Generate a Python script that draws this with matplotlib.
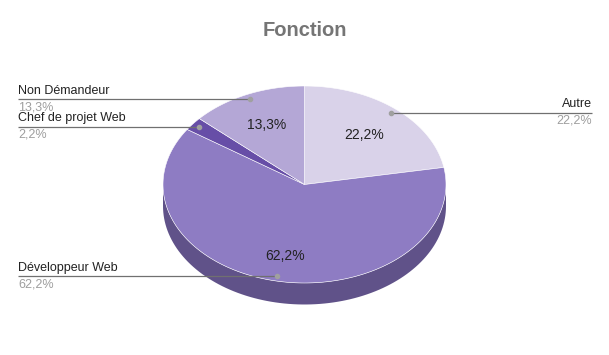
import numpy as np
import matplotlib
matplotlib.use("Agg")
import matplotlib.pyplot as plt
from matplotlib.patches import Polygon

categories = ["Autre", "Développeur Web", "Chef de projet Web", "Non Démandeur"]
values = [10, 28, 1, 6]
top_colors = ["#d9d2e9", "#8e7cc3", "#674ea7", "#b4a7d6"]
side_colors = ["#a39eaf", "#605289", "#4d3a7d", "#877da0"]
title = "Fonction"

plt.rcParams['font.family'] = ['Liberation Sans', 'DejaVu Sans']

W, H = 609, 355
fig = plt.figure(figsize=(W / 100, H / 100), dpi=100)
ax = fig.add_axes([0, 0, 1, 1])
ax.set_xlim(0, W)
ax.set_ylim(H, 0)
ax.axis('off')

cx, cy, rx, ry, depth = 304.5, 184.5, 141.5, 98.5, 21.5

total = float(sum(values))
fracs = [v / total for v in values]
starts = np.cumsum([0] + fracs[:-1]) * 360
ends = starts + np.array(fracs) * 360


def pt(a, r=1.0, dz=0.0):
    t = np.radians(a)
    return cx + r * rx * np.sin(t), cy - r * ry * np.cos(t) + dz


# sides (front half, 90..270)
for s, e, sc in zip(starts, ends, side_colors):
    a0, a1 = max(s, 90), min(e, 270)
    if a1 <= a0:
        continue
    ang = np.linspace(a0, a1, 100)
    top = [pt(a) for a in ang]
    bot = [pt(a, dz=depth) for a in ang[::-1]]
    ax.add_patch(Polygon(top + bot, closed=True, facecolor=sc, edgecolor='none', zorder=1))

# tops
for s, e, tc in zip(starts, ends, top_colors):
    ang = np.linspace(s, e, 200)
    poly = [(cx, cy)] + [pt(a) for a in ang]
    ax.add_patch(Polygon(poly, closed=True, facecolor=tc, edgecolor='#ffffff',
                         linewidth=0.4, zorder=2))

pct = [f"{f * 100:.1f}".replace('.', ',') + '%' for f in fracs]

# inside labels
for s, e, f, p in zip(starts, ends, fracs, pct):
    if f < 0.05:
        continue
    m = (s + e) / 2
    x, y = pt(m, 0.66)
    if 90 < m < 270:
        y += 8
    ax.text(x, y, p, ha='center', va='center', fontsize=10, color='#222222', zorder=5)

# leader lines
for s, e, name, p in zip(starts, ends, categories, pct):
    m = (s + e) / 2
    x, y = pt(m, 0.95)
    if x > cx:
        xe = 592
        ha = 'right'
    else:
        xe = 18
        ha = 'left'
    ax.plot([x, xe], [y, y], color='#707070', linewidth=0.9, zorder=4, solid_capstyle='butt')
    ax.plot([x], [y], 'o', color='#a0a0a0', markersize=3, zorder=6)
    ax.text(xe, y - 2.5, name, ha=ha, va='bottom', fontsize=9, color='#222222')
    ax.text(xe, y + 2, p, ha=ha, va='top', fontsize=9, color='#9e9e9e')

ax.text(W / 2, 30, title, ha='center', va='center', fontsize=14.5, fontweight='bold',
        color='#757575')

fig.savefig('out.png', dpi=100, facecolor='white')
